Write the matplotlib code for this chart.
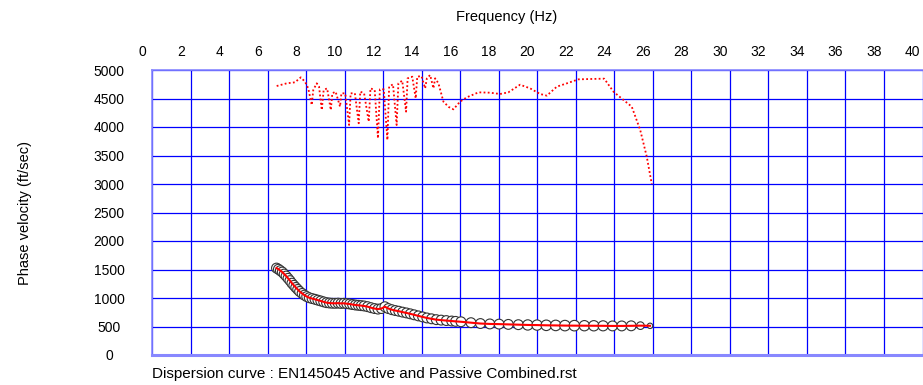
import numpy as np
import matplotlib.pyplot as plt
import matplotlib.transforms as mtransforms

plt.rcParams['font.family'] = ['Liberation Sans', 'DejaVu Sans']

# Picked dispersion points (frequency Hz, phase velocity ft/sec)
pick_freq = [6.45, 6.55, 6.65, 6.75, 6.85, 6.95, 7.05, 7.15, 7.25, 7.35, 7.45, 7.55, 7.65, 7.78, 7.90,
             8.02, 8.15, 8.30, 8.45, 8.60, 8.75, 8.90, 9.05, 9.20, 9.35, 9.50, 9.65, 9.80, 9.95, 10.10,
             10.25, 10.40, 10.55, 10.70, 10.85, 11.00, 11.18, 11.36, 11.54, 11.72, 11.90, 12.08, 12.26,
             12.44, 12.62, 12.80, 13.00, 13.20, 13.40, 13.60, 13.82, 14.04, 14.26, 14.50, 14.75, 15.00,
             15.27, 15.55, 15.75, 16.03, 16.55, 17.04, 17.53, 18.01, 18.49, 19.01, 19.50, 19.98, 20.46,
             20.95, 21.43, 21.92, 22.44, 22.93, 23.41, 23.90, 24.38, 24.87, 25.35, 25.85]
pick_vel = [1525, 1505, 1480, 1455, 1420, 1385, 1345, 1305, 1260, 1222, 1185, 1150, 1115, 1080, 1050,
            1025, 1005, 990, 977, 962, 948, 932, 918, 912, 908, 907, 910, 905, 907, 900,
            895, 885, 877, 872, 866, 860, 848, 830, 815, 805, 815, 847, 815,
            795, 780, 768, 752, 738, 722, 705, 686, 668, 650, 635, 620, 612,
            604, 596, 590, 583, 567, 552, 545, 542, 537, 532, 527, 525, 521,
            519, 516, 515, 514, 513, 512, 510, 510, 512, 515, 512]
# relative weight of each pick (drawn as circle size)
pick_weight = [1.0] * 66 + [1.1, 1.1, 1.15, 1.15, 1.15, 1.15, 1.1, 1.1, 1.05, 1.0, 1.0, 1.0, 0.6, 0.3]

# Upper (dotted) curve
upper_freq = [6.46, 6.98, 7.41, 7.71, 7.93, 8.10, 8.28, 8.36, 8.54, 8.66, 8.80, 8.90, 9.08, 9.27, 9.35,
              9.52, 9.75, 9.82, 10.02, 10.22, 10.30, 10.52, 10.72, 10.80, 11.00, 11.24, 11.33, 11.55,
              11.72, 11.82, 12.02, 12.21, 12.30, 12.50, 12.69, 12.78, 12.98, 13.18, 13.26, 13.50, 13.68,
              13.76, 13.98, 14.17, 14.26, 14.43, 14.60, 14.69, 14.86, 15.12, 15.40, 15.64, 15.98, 16.33,
              16.94, 17.54, 18.06, 18.49, 19.10, 19.62, 20.14, 20.49, 21.01, 21.53, 22.13, 22.74, 23.47,
              23.95, 24.47, 24.90, 25.34, 25.68, 25.94]
upper_vel = [4719, 4766, 4784, 4871, 4795, 4678, 4386, 4649, 4766, 4708, 4298, 4649, 4678, 4298, 4591,
             4620, 4357, 4591, 4591, 4035, 4591, 4591, 4065, 4620, 4591, 4094, 4678, 4649,
             3801, 4661, 4661, 3772, 4708, 4749, 4035, 4766, 4813, 4269, 4854, 4883, 4503,
             4883, 4894, 4678, 4854, 4912, 4678, 4854, 4766, 4444, 4350, 4310, 4444, 4520,
             4608, 4602, 4579, 4608, 4742, 4678, 4579, 4550, 4708, 4766, 4836, 4842, 4848,
             4620, 4474, 4357, 3947, 3479, 3000]

x_ticks = np.arange(0, 41, 2)
y_ticks = np.arange(0, 5001, 500)

fig = plt.figure(figsize=(9.23, 3.85), dpi=100)
ax = fig.add_axes([152.3 / 923, 30 / 385, 770.2 / 923, 285 / 385])

ax.set_xlim(0, 40)
ax.set_ylim(0, 5000)
ax.set_xticks(x_ticks)
ax.set_yticks(y_ticks)
ax.grid(True, color='#0000FF', linewidth=0.9)
ax.set_axisbelow(True)

ax.xaxis.tick_top()
ax.tick_params(axis='both', length=0, labelsize=10)
ax.tick_params(axis='x', pad=8)
ax.tick_params(axis='y', pad=31)
for lab in ax.get_yticklabels():
    lab.set_horizontalalignment('center')
shift = mtransforms.ScaledTranslation(-10 / 100, 0, fig.dpi_scale_trans)
for lab in ax.get_xticklabels():
    lab.set_transform(lab.get_transform() + shift)

for side in ['top', 'left']:
    ax.spines[side].set_color('#8888FF')
    ax.spines[side].set_linewidth(1.2)
ax.spines['bottom'].set_color('#8888FF')
ax.spines['bottom'].set_linewidth(2.2)
ax.spines['right'].set_visible(False)

# dotted upper curve
ax.plot(upper_freq, upper_vel, color='red', linestyle=(0, (1, 1.3)), linewidth=1.3)

# picked points and curve
sizes = [50 * w for w in pick_weight]
ax.scatter(pick_freq, pick_vel, s=sizes, facecolor='white', edgecolor='#333333', linewidth=0.8, zorder=3)
ax.plot(pick_freq, pick_vel, color='red', linewidth=1.5, zorder=4)

fig.text(507 / 923, 1 - 17 / 385, 'Frequency (Hz)', ha='center', va='center', fontsize=10.5)
fig.text(25 / 923, 1 - 213 / 385, 'Phase velocity (ft/sec)', ha='center', va='center',
         rotation=90, fontsize=10.5)
fig.text(152 / 923, 1 - 374 / 385, 'Dispersion curve : EN145045 Active and Passive Combined.rst',
         ha='left', va='center', fontsize=11)

fig.savefig('out.png', dpi=100)
